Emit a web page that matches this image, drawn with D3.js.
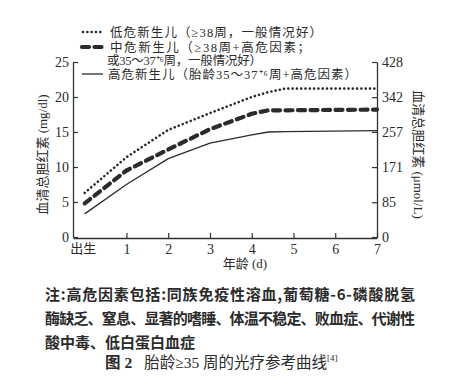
<!DOCTYPE html>
<html>
<head>
<meta charset="utf-8">
<script src="https://cdn.jsdelivr.net/npm/d3@7"></script>
<style>
  body { margin: 0; background: #fff; }
  svg { display: block; }
</style>
</head>
<body>
<div id="chart"></div>
<script>
// Data (days after birth, mg/dl)
const days = [0, 1, 2, 3, 4, 4.4, 4.8, 7];
const lowRisk = [6.3, 11.4, 15.3, 17.7, 20.0, 20.7, 21.2, 21.2];
const midRisk = [4.8, 9.5, 12.5, 15.4, 17.6, 18.1, 18.1, 18.2];
const highRisk = [3.3, 7.5, 11.2, 13.4, 14.6, 15.0, 15.05, 15.2];

const xTicks = [0, 1, 2, 3, 4, 5, 6, 7];
const xTickLabels = ["出生", "1", "2", "3", "4", "5", "6", "7"];
const leftTicks = [0, 5, 10, 15, 20, 25];
const rightTicks = [0, 85, 171, 257, 342, 428];

const legendLines = [
  "低危新生儿（≥38周，一般情况好）",
  "中危新生儿（≥38周+高危因素；",
  "或35～37⁺⁶周，一般情况好）",
  "高危新生儿（胎龄35～37⁺⁶周+高危因素）",
];
const noteLines = [
  "注:高危因素包括:同族免疫性溶血,葡萄糖-6-磷酸脱氢",
  "酶缺乏、窒息、显著的嗜睡、体温不稳定、败血症、代谢性",
  "酸中毒、低白蛋白血症",
];

const colors = {
  ink: "#2b2b2b",
  axis: "#333",
};

const width = 471, height = 389;
const cjk = "'Noto Sans CJK SC', sans-serif";
const num = "'Liberation Serif', 'Noto Sans CJK SC', serif";

const svg = d3.select("#chart").append("svg")
  .attr("width", width).attr("height", height);

const plot = { left: 73, right: 377, top: 62, bottom: 237 };

const x = d3.scaleLinear().domain([-0.28, 7]).range([plot.left, plot.right]);
const y = d3.scaleLinear().domain([0, 25]).range([plot.bottom, plot.top]);
const y2 = d3.scaleLinear().domain([0, 428]).range([plot.bottom, plot.top]);

// axes
const axisBottom = d3.axisBottom(x).tickValues(xTicks)
  .tickFormat((d, i) => xTickLabels[i]).tickSizeInner(-5).tickSizeOuter(0).tickPadding(6);
const axisLeft = d3.axisLeft(y).tickValues(leftTicks).tickSizeInner(-5).tickSizeOuter(0).tickPadding(4);
const axisRight = d3.axisRight(y2).tickValues(rightTicks).tickSizeInner(-5).tickSizeOuter(0).tickPadding(5);

const gx = svg.append("g").attr("transform", `translate(0,${plot.bottom + 1})`).call(axisBottom);
const gl = svg.append("g").attr("transform", `translate(${plot.left},0)`).call(axisLeft);
const gr = svg.append("g").attr("transform", `translate(${plot.right},0)`).call(axisRight);

[gx, gl, gr].forEach(g => {
  g.select(".domain").attr("stroke", colors.axis).attr("stroke-width", 1.3);
  g.selectAll(".tick line").attr("stroke", colors.axis).attr("stroke-width", 1.2);
  g.selectAll(".tick text").attr("fill", colors.ink)
    .attr("font-size", 14).attr("font-family", num);
});
gx.selectAll(".tick text").filter(d => d === 0)
  .attr("font-family", cjk).attr("font-size", 13).attr("dx", -2);
gx.selectAll(".tick line").filter(d => d === 0).remove();

// axis titles
svg.append("text")
  .attr("transform", `translate(47,${(plot.top + plot.bottom) / 2 + 5}) rotate(-90)`)
  .attr("text-anchor", "middle").attr("fill", colors.ink)
  .attr("font-size", 13).attr("font-family", num)
  .text("血清总胆红素 (mg/dl)");
svg.append("text")
  .attr("transform", `translate(414,${(plot.top + plot.bottom) / 2 + 5}) rotate(90)`)
  .attr("text-anchor", "middle").attr("fill", colors.ink)
  .attr("font-size", 13).attr("font-family", num)
  .text("血清总胆红素 (μmol/L)");
svg.append("text")
  .attr("x", 245).attr("y", 268)
  .attr("text-anchor", "middle").attr("fill", colors.ink)
  .attr("font-size", 13).attr("font-family", num)
  .text("年龄 (d)");

// curves
const line = d3.line()
  .x((d, i) => x(days[i]))
  .y(d => y(d));

const styles = [
  { vals: lowRisk, width: 2.6, dash: "0.1 4.2", cap: "round" },
  { vals: midRisk, width: 4.2, dash: "7 5.5", cap: "round" },
  { vals: highRisk, width: 1.3, dash: null, cap: "butt" },
];

styles.forEach(s => {
  svg.append("path")
    .attr("d", line(s.vals))
    .attr("fill", "none")
    .attr("stroke", colors.ink)
    .attr("stroke-width", s.width)
    .attr("stroke-dasharray", s.dash)
    .attr("stroke-linecap", s.cap)
    .attr("stroke-linejoin", "round");
});

// legend
const lg = svg.append("g").attr("font-family", num).attr("font-size", 12.5).attr("fill", colors.ink);
const legendRows = [
  { y: 32, x1: 83, x2: 101, tx: 110, w: 212, style: styles[0], text: legendLines[0] },
  { y: 47, x1: 82, x2: 106, tx: 110, w: 200, style: styles[1], text: legendLines[1] },
  { y: 60.5, tx: 107, w: 155, text: legendLines[2] },
  { y: 74, x1: 82, x2: 103, tx: 108, w: 249, style: styles[2], text: legendLines[3] },
];
legendRows.forEach(r => {
  if (r.style) {
    lg.append("line")
      .attr("x1", r.x1).attr("x2", r.x2).attr("y1", r.y).attr("y2", r.y)
      .attr("stroke", colors.ink)
      .attr("stroke-width", r.style.width)
      .attr("stroke-dasharray", r.style.dash)
      .attr("stroke-linecap", r.style.cap);
  }
  lg.append("text").attr("x", r.tx).attr("y", r.y + 4.5)
    .attr("textLength", r.w).attr("lengthAdjust", "spacing")
    .text(r.text);
});

// note and caption
const noteWidths = [370, 370, null];
const ng = svg.append("g").attr("font-family", cjk).attr("font-size", 15)
  .attr("font-weight", 600).attr("fill", colors.ink);
noteLines.forEach((t, i) => {
  const tx = ng.append("text").attr("x", 45).attr("y", 299.5 + i * 24.3).text(t);
  if (noteWidths[i]) tx.attr("textLength", noteWidths[i]).attr("lengthAdjust", "spacing");
});
const cap = svg.append("text").attr("x", 105).attr("y", 368)
  .attr("font-family", num).attr("font-size", 15.5).attr("fill", colors.ink);
cap.append("tspan").attr("font-weight", 700).text("图 2");
cap.append("tspan").attr("dx", 12).text("胎龄≥35 周的光疗参考曲线");
cap.append("tspan").attr("font-size", 9).attr("dy", -7).text("[4]");
</script>
</body>
</html>
